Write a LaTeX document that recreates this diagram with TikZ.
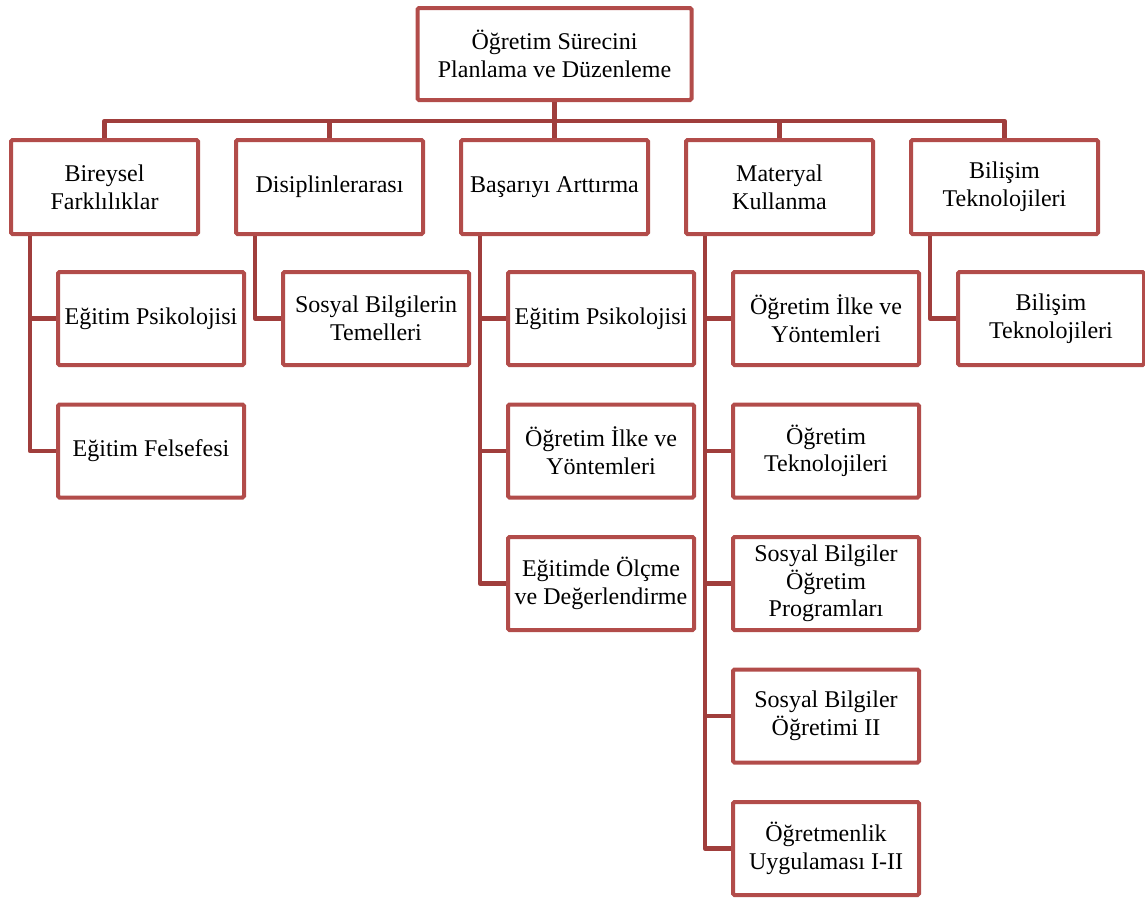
\documentclass[tikz,border=0pt]{standalone}
\usepackage{fontspec}
\setmainfont{Liberation Serif}
\usetikzlibrary{positioning}
\definecolor{boxred}{RGB}{178,76,74}
\definecolor{linkred}{RGB}{160,62,60}
\tikzset{
    box/.style={draw=boxred, line width=4pt, rounded corners=1.5pt, fill=white,
        align=center, inner sep=0pt, font=\fontsize{24}{27.6}\selectfont},
    root/.style={box, minimum width=274pt, minimum height=92pt},
    topic/.style={box, minimum width=187pt, minimum height=94pt},
    course/.style={box, minimum width=186pt, minimum height=93pt},
    link/.style={draw=linkred, line width=4.5pt, line join=round}
}

\begin{document}
\begin{tikzpicture}[x=1pt, y=1pt, node distance=225pt, on grid]
    \useasboundingbox (0,0) rectangle (1145,-897);
    \node[root] (plan) at (554.5,-54) {Öğretim Sürecini\\Planlama ve Düzenleme};
    \node[topic] (bir) at (104.5,-187) {Bireysel\\Farklılıklar};
    \node[topic] (dis) [right=of bir] {Disiplinlerarası};
    \node[topic] (bas) [right=of dis] {Başarıyı Arttırma};
    \node[topic] (mat) [right=of bas] {Materyal\\Kullanma};
    \node[topic] (bil) [right=of mat] {Bilişim\\Teknolojileri};

    \node[course] (bir1) [below right=131.5pt and 46.5pt of bir] {Eğitim Psikolojisi};
    \node[course] (bir2) [below=132.5pt of bir1] {Eğitim Felsefesi};
    \node[course] (dis1) [below right=131.5pt and 46.5pt of dis] {Sosyal Bilgilerin\\Temelleri};
    \node[course] (bas1) [below right=131.5pt and 46.5pt of bas] {Eğitim Psikolojisi};
    \node[course] (bas2) [below=132.5pt of bas1] {Öğretim İlke ve\\Yöntemleri};
    \node[course] (bas3) [below=132.5pt of bas2] {Eğitimde Ölçme\\ve Değerlendirme};
    \node[course] (mat1) [below right=131.5pt and 46.5pt of mat] {Öğretim İlke ve\\Yöntemleri};
    \node[course] (mat2) [below=132.5pt of mat1] {Öğretim\\Teknolojileri};
    \node[course] (mat3) [below=132.5pt of mat2] {Sosyal Bilgiler\\Öğretim\\Programları};
    \node[course] (mat4) [below=132.5pt of mat3] {Sosyal Bilgiler\\Öğretimi II};
    \node[course] (mat5) [below=132.5pt of mat4] {Öğretmenlik\\Uygulaması I-II};
    \node[course] (bil1) [below right=131.5pt and 46.5pt of bil] {Bilişim\\Teknolojileri};

    \coordinate (bus) at (554.5,-121);
    \draw[link] (plan.south) -- (bus);
    \draw[link] (bir.north) |- (bus) -| (bil.north);
    \foreach \t in {dis,bas,mat}
        \draw[link] (\t.north) -- (\t.north |- bus);

    \foreach \t/\cs in {bir/{bir1,bir2}, dis/{dis1}, bas/{bas1,bas2,bas3},
                        mat/{mat1,mat2,mat3,mat4,mat5}, bil/{bil1}} {
        \coordinate (\t-trunk) at ([xshift=21pt]\t.south west);
        \foreach \c in \cs
            \draw[link] (\t-trunk) |- (\c.west);
    }
\end{tikzpicture}
\end{document}
